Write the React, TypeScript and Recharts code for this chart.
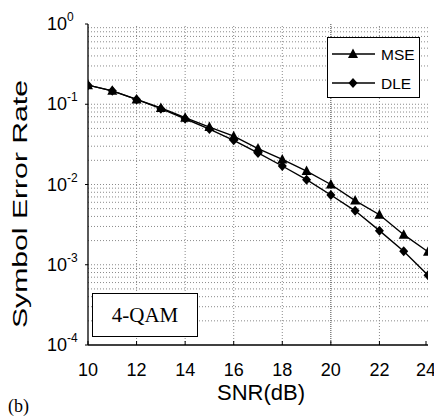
import React from 'react';
import { LineChart, Line, XAxis, YAxis, Legend, ReferenceLine } from 'recharts';

// SNR in dB
const snr = [10, 11, 12, 13, 14, 15, 16, 17, 18, 19, 20, 21, 22, 23, 24];
// symbol error rate
const mse = [0.173, 0.147, 0.115, 0.09, 0.068, 0.052, 0.04, 0.028, 0.0205, 0.0147, 0.01, 0.0063, 0.0042, 0.00237, 0.00145];
const dle = [0.173, 0.147, 0.115, 0.088, 0.066, 0.049, 0.0355, 0.0247, 0.017, 0.0115, 0.0074, 0.0047, 0.00266, 0.00147, 0.00074];

const xTicks = [10, 12, 14, 16, 18, 20, 22, 24];
const yTicks = [1e-4, 1e-3, 1e-2, 1e-1, 1];
const gridX = [12, 14, 16, 18, 20, 22];
const decades = [1e-4, 1e-3, 1e-2, 1e-1];
const minorSteps = [1, 2, 3, 4, 5, 6, 7, 8, 9];
const gridY = decades.flatMap((d) => minorSteps.map((m) => d * m)).filter((v) => v > 1e-4);

const legendRows = [
  { key: 'mse', name: 'MSE', marker: 'triangle' },
  { key: 'dle', name: 'DLE', marker: 'diamond' },
];

const data = snr.map((s, i) => ({ snr: s, mse: mse[i], dle: dle[i] }));

const SANS = '"Liberation Sans", Arial, sans-serif';
const SERIF = '"Liberation Serif", "Times New Roman", serif';

const trianglePath = (cx: number, cy: number) =>
  `M${cx},${cy - 5.5} L${cx + 5},${cy + 4} L${cx - 5},${cy + 4} Z`;
const diamondPath = (cx: number, cy: number) =>
  `M${cx},${cy - 5} L${cx + 4.5},${cy} L${cx},${cy + 5} L${cx - 4.5},${cy} Z`;

const TriangleDot = (p: any) => <path key={`t-${p.index}`} d={trianglePath(p.cx, p.cy)} fill="#000" />;
const DiamondDot = (p: any) => <path key={`d-${p.index}`} d={diamondPath(p.cx, p.cy)} fill="#000" />;

const XTick = (props: any) => {
  const { x, y, payload } = props;
  return (
    <g>
      <line x1={x} y1={y} x2={x} y2={y - 4} stroke="#000" />
      <text x={x} y={y + 31} textAnchor="middle" fontSize={18} fontFamily={SANS} fill="#000">
        {payload.value}
      </text>
    </g>
  );
};

const TopTick = (props: any) => {
  const { x, y } = props;
  return <line x1={x} y1={y - 4} x2={x} y2={y + 4} stroke="#000" />;
};

const YTick = (props: any) => {
  const { x, y, payload } = props;
  const exp = Math.round(Math.log10(payload.value));
  return (
    <g>
      <line x1={x} y1={y} x2={x - 3} y2={y} stroke="#000" />
      <text x={x - 41} y={y + 6} fontSize={18} fontFamily={SANS} fill="#000">
        10
        <tspan dy={-9} fontSize={12}>{exp}</tspan>
      </text>
    </g>
  );
};

const RightTick = (props: any) => {
  const { x, y } = props;
  return <line x1={x} y1={y} x2={x - 4} y2={y} stroke="#000" />;
};

const LegendBox = () => (
  <div
    style={{
      width: 93,
      height: 61,
      boxSizing: 'border-box',
      border: '1.5px solid #000',
      background: '#fff',
    }}
  >
    <svg width={90} height={58} style={{ display: 'block' }}>
      {legendRows.map((r, i) => {
        const cy = 16 + 29 * i;
        return (
          <g key={r.key}>
            <line x1={4} y1={cy} x2={47} y2={cy} stroke="#000" strokeWidth={1.4} />
            <path d={r.marker === 'triangle' ? trianglePath(25, cy) : diamondPath(25, cy)} fill="#000" />
            <text x={53} y={cy + 5.5} fontSize={15.5} fontFamily={SANS} fill="#000">
              {r.name}
            </text>
          </g>
        );
      })}
    </svg>
  </div>
);

export default function App() {
  return (
    <div style={{ position: 'absolute', left: 0, top: 0, width: 434, height: 418, background: '#fff' }}>
      <LineChart width={434} height={418} data={data} margin={{ top: 24, right: 6, bottom: 0, left: 0 }}>
        {gridY.map((v) => (
          <ReferenceLine key={`gy-${v}`} y={v} stroke="#8a8a8a" strokeWidth={1} strokeDasharray="1 2" />
        ))}
        {gridX.map((v) => (
          <ReferenceLine
            key={`gx-${v}`}
            x={v}
            stroke={v === 20 ? '#444' : '#8a8a8a'}
            strokeWidth={1}
            strokeDasharray={v === 20 ? '1 1' : '1 2'}
          />
        ))}
        <XAxis
          dataKey="snr"
          type="number"
          domain={[10, 24]}
          ticks={xTicks}
          allowDataOverflow
          height={73}
          tickSize={0}
          tickMargin={0}
          tickLine={false}
          tick={<XTick />}
          axisLine={{ stroke: '#000', strokeWidth: 1.3 }}
          label={{
            content: (p: any) => {
              const vb = p.viewBox;
              return (
                <text
                  x={vb.x + vb.width / 2 + 3}
                  y={400}
                  textAnchor="middle"
                  fontSize={22}
                  fontFamily={SANS}
                  fill="#000"
                >
                  SNR(dB)
                </text>
              );
            },
          }}
        />
        <XAxis
          xAxisId="top"
          orientation="top"
          type="number"
          domain={[10, 24]}
          ticks={xTicks}
          allowDataOverflow
          height={0}
          tickSize={0}
          tickMargin={0}
          tickLine={false}
          tick={<TopTick />}
          axisLine={{ stroke: '#000', strokeWidth: 1.3 }}
        />
        <YAxis
          type="number"
          scale="log"
          domain={[1e-4, 1]}
          ticks={yTicks}
          allowDataOverflow
          width={88}
          tickSize={0}
          tickMargin={0}
          tickLine={false}
          tick={<YTick />}
          axisLine={{ stroke: '#000', strokeWidth: 1.3 }}
          label={{
            content: () => (
              <text
                transform="translate(27,204) rotate(-90)"
                textAnchor="middle"
                fontSize={20}
                fontFamily={SANS}
                fill="#000"
                textLength={248}
                lengthAdjust="spacingAndGlyphs"
              >
                Symbol Error Rate
              </text>
            ),
          }}
        />
        <YAxis
          yAxisId="right"
          orientation="right"
          type="number"
          scale="log"
          domain={[1e-4, 1]}
          ticks={yTicks}
          allowDataOverflow
          width={0}
          tickSize={0}
          tickMargin={0}
          tickLine={false}
          tick={<RightTick />}
          axisLine={{ stroke: '#000', strokeWidth: 1.3 }}
        />
        <Legend
          layout="vertical"
          align="center"
          verticalAlign="middle"
          wrapperStyle={{ position: 'absolute', left: 327, top: 37, width: 93, height: 61 }}
          content={<LegendBox />}
        />
        <Line
          dataKey="mse"
          name="MSE"
          stroke="#000"
          strokeWidth={1.4}
          dot={TriangleDot}
          isAnimationActive={false}
        />
        <Line
          dataKey="dle"
          name="DLE"
          stroke="#000"
          strokeWidth={1.4}
          dot={DiamondDot}
          isAnimationActive={false}
        />
      </LineChart>
      <div
        style={{
          position: 'absolute',
          left: 92,
          top: 293,
          width: 106,
          height: 44,
          boxSizing: 'border-box',
          border: '1.5px solid #000',
          background: '#fff',
          fontFamily: SERIF,
          fontSize: 21,
          display: 'flex',
          alignItems: 'center',
          justifyContent: 'center',
        }}
      >
        4-QAM
      </div>
      <div style={{ position: 'absolute', left: 8, top: 396, fontFamily: SERIF, fontSize: 18, lineHeight: '20px' }}>
        (b)
      </div>
    </div>
  );
}
